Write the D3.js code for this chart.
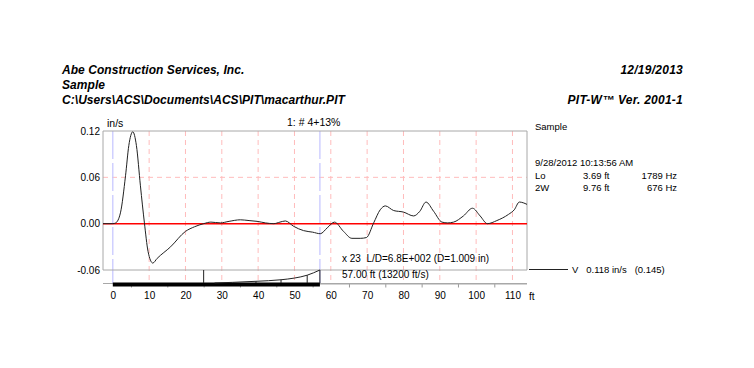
<!DOCTYPE html>
<html>
<head>
<meta charset="utf-8">
<script src="https://cdn.jsdelivr.net/npm/d3@7"></script>
<style>
  html, body { margin: 0; padding: 0; background: #fff; }
  svg { display: block; font-family: "Liberation Sans", Arial, Helvetica, sans-serif; }
</style>
</head>
<body>
<svg id="chart" width="754" height="368"></svg>
<script>
// ---- data ----
const headerLeft = ["Abe Construction Services, Inc.", "Sample", "C:\\Users\\ACS\\Documents\\ACS\\PIT\\macarthur.PIT"];
const headerRight = ["12/19/2013", "PIT-W\u2122 Ver. 2001-1"];
const distFt = [-2.7, 0, 0.8, 2.1, 3.5, 4.4, 5.5, 6.5, 7.6, 8.7, 9.7, 11.0, 12.2, 15.9, 20, 22.5, 25, 27, 29.6, 32, 35.1, 37.5, 39.7, 42, 44.3, 46, 47.5, 49.8, 52.5, 55, 57.1, 59, 61, 63.5, 65.8, 68.1, 69.8, 71.8, 73.6, 75, 77.3, 80, 82.8, 84.5, 86.2, 88.3, 90.6, 92.2, 93.8, 96.5, 99, 101.1, 103.1, 105.7, 108.9, 110.5, 111.9, 114];
const velocity = [0, 0, 0.001, 0.014, 0.062, 0.101, 0.119, 0.101, 0.049, 0.001, -0.036, -0.051, -0.045, -0.030, -0.010, -0.004, 0.000, 0.002, 0.001, 0.003, 0.005, 0.004, 0.003, 0.001, 0.000, 0.002, 0.0035, -0.0035, -0.009, -0.011, -0.013, -0.0055, 0.002, -0.010, -0.019, -0.019, -0.018, 0.001, 0.018, 0.023, 0.017, 0.015, 0.010, 0.016, 0.028, 0.016, 0.002, 0.001, 0.002, 0.010, 0.020, 0.010, 0.000, 0.004, 0.012, 0.018, 0.028, 0.025];
const yTicks = [0.12, 0.06, 0.00, -0.06];
const xTickLabels = [0, 10, 20, 30, 40, 50, 60, 70, 80, 90, 100, 110];
const xMinorTicks = [5, 15, 25, 35, 45, 55, 65, 75, 85, 95, 105];
const markersFt = [0, 57];
const pileLengthFt = 57;
// pile profile band (relative height 0..1)
const profileFt = [28, 33, 39.4, 46.3, 50, 53.5, 57];
const profileVal = [0, 0.05, 0.13, 0.25, 0.38, 0.6, 1.0];
const profileTicksFt = [39.4, 46.3, 53.5];
const profileFullTicksFt = [25, 57];
const infoRight = [
  ["Lo", "3.69 ft", "1789 Hz"],
  ["2W", "9.76 ft", "676 Hz"]
];

// ---- drawing ----
const svg = d3.select("#chart");
const x = d3.scaleLinear().domain([-2.7, 114]).range([103, 527]);
const y = d3.scaleLinear().domain([-0.06, 0.12]).range([270, 131]);
const bandTop = 270, bandBot = 283.5;
const yb = d3.scaleLinear().domain([0, 1]).range([283, 270]);

// header
const hdr = svg.append("g").attr("font-weight", "bold").attr("font-style", "italic").attr("font-size", 12).attr("fill", "#000");
headerLeft.forEach((t, i) => hdr.append("text").attr("x", 62).attr("y", 74 + i * 15).attr("letter-spacing", 0.05).text(t));
hdr.append("text").attr("x", 683).attr("y", 74).attr("text-anchor", "end").attr("letter-spacing", 0.25).text(headerRight[0]);
hdr.append("text").attr("x", 683).attr("y", 104).attr("text-anchor", "end").attr("letter-spacing", 0.25).text(headerRight[1]);

// grid
const grid = svg.append("g");
grid.selectAll(".vg").data(xTickLabels.filter(d => d > 0)).enter().append("line")
  .attr("x1", d => x(d)).attr("x2", d => x(d)).attr("y1", y(0.12)).attr("y2", bandBot)
  .attr("stroke", "#ffbcbc").attr("stroke-width", 1).attr("stroke-dasharray", "5,4");
grid.append("line").attr("x1", x.range()[0]).attr("x2", x.range()[1]).attr("y1", y(0.06)).attr("y2", y(0.06))
  .attr("stroke", "#ffbcbc").attr("stroke-dasharray", "5,4");
grid.selectAll(".bm").data(markersFt).enter().append("line")
  .attr("x1", d => x(d)).attr("x2", d => x(d)).attr("y1", y(0.12)).attr("y2", bandBot)
  .attr("stroke", "#c4c4ff").attr("stroke-width", 1.2).attr("stroke-dasharray", "28,4");

// frame
const frame = svg.append("g").attr("stroke", "#a8a8a8").attr("stroke-width", 1).attr("fill", "none");
frame.append("path").attr("d", `M${x.range()[0]},${y(-0.06)}V${y(0.12)}H${x.range()[1]}V${y(-0.06)}H${x.range()[0]}`);

// zero line
svg.append("line").attr("x1", x.range()[0]).attr("x2", x.range()[1]).attr("y1", y(0)).attr("y2", y(0))
  .attr("stroke", "#ff0000").attr("stroke-width", 1.5);

// curve
const line = d3.line().x((d, i) => x(distFt[i])).y(d => y(d)).curve(d3.curveMonotoneX);
svg.append("path").attr("d", line(velocity)).attr("fill", "none").attr("stroke", "#222").attr("stroke-width", 1);

// y labels
const yl = svg.append("g").attr("font-size", 10).attr("fill", "#000").attr("text-anchor", "end");
yl.selectAll("text").data(yTicks).enter().append("text")
  .attr("x", 100).attr("y", d => y(d) + 3.5).text(d => d3.format(".2f")(d).replace("\u2212", "-"));
svg.append("text").attr("x", 107).attr("y", 127).attr("font-size", 10.5).text("in/s");
svg.append("text").attr("x", 287).attr("y", 126).attr("font-size", 10.5).text("1: # 4+13%");

// bottom axis
const axisY = 284;
const ax = svg.append("g").attr("transform", `translate(0,${axisY})`)
  .call(d3.axisBottom(x).tickValues(xMinorTicks).tickSize(3.5).tickFormat(""));
ax.select(".domain").remove();
ax.selectAll(".tick line").attr("stroke", "#999");
svg.append("line").attr("x1", x(0)).attr("x2", x.range()[1]).attr("y1", axisY).attr("y2", axisY).attr("stroke", "#a8a8a8");
const axl = svg.append("g").attr("transform", `translate(0,${axisY})`)
  .call(d3.axisBottom(x).tickValues(xTickLabels).tickSize(0).tickPadding(8));
axl.select(".domain").remove();
axl.selectAll("text").attr("font-size", 10).attr("font-family", "Liberation Sans, Arial, sans-serif").attr("fill", "#000");
svg.append("text").attr("x", 529).attr("y", 300).attr("font-size", 10).text("ft");

// band
svg.append("line").attr("x1", x.range()[0]).attr("x2", x.range()[1]).attr("y1", axisY - 0.5).attr("y2", axisY - 0.5)
  .attr("stroke", "#a8a8a8");
svg.append("rect").attr("x", x(0)).attr("y", 282.5).attr("width", x(pileLengthFt) - x(0)).attr("height", 4).attr("fill", "#000");
const prof = d3.line().x((d, i) => x(profileFt[i])).y(d => yb(d)).curve(d3.curveMonotoneX);
svg.append("path").attr("d", prof(profileVal)).attr("fill", "none").attr("stroke", "#222").attr("stroke-width", 1);
const interp = f => { for (let i = 1; i < profileFt.length; i++) { if (f <= profileFt[i]) { const t = (f - profileFt[i-1]) / (profileFt[i] - profileFt[i-1]); return profileVal[i-1] + t * (profileVal[i] - profileVal[i-1]); } } return 1; };
svg.selectAll(".pt").data(profileTicksFt).enter().append("line")
  .attr("x1", d => x(d)).attr("x2", d => x(d)).attr("y1", d => yb(interp(d))).attr("y2", 283)
  .attr("stroke", "#222");
svg.selectAll(".pf").data(profileFullTicksFt).enter().append("line")
  .attr("x1", d => x(d)).attr("x2", d => x(d)).attr("y1", bandTop).attr("y2", 283)
  .attr("stroke", "#222");
svg.append("text").attr("x", 342).attr("y", 262).attr("font-size", 10).attr("xml:space", "preserve").text("x 23  L/D=6.8E+002 (D=1.009 in)");
svg.append("text").attr("x", 342).attr("y", 278).attr("font-size", 10).text("57.00 ft (13200 ft/s)");

// right info
const info = svg.append("g").attr("font-size", 9.5).attr("fill", "#000");
info.append("text").attr("x", 535).attr("y", 130).text("Sample");
info.append("text").attr("x", 535).attr("y", 166).text("9/28/2012 10:13:56 AM");
infoRight.forEach((r, i) => {
  const yy = 179 + i * 12;
  info.append("text").attr("x", 535).attr("y", yy).text(r[0]);
  info.append("text").attr("x", 583).attr("y", yy).text(r[1]);
  info.append("text").attr("x", 677).attr("y", yy).attr("text-anchor", "end").text(r[2]);
});
svg.append("line").attr("x1", 529).attr("x2", 568).attr("y1", 269.5).attr("y2", 269.5).attr("stroke", "#222");
info.append("text").attr("x", 572).attr("y", 272.5).attr("xml:space", "preserve").text("V   0.118 in/s   (0.145)");
</script>
</body>
</html>
